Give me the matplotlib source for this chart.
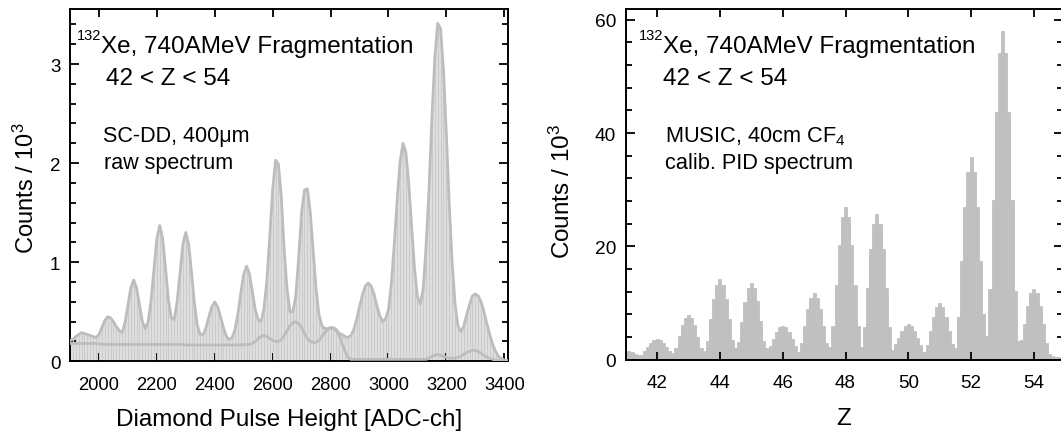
import numpy as np
import matplotlib
matplotlib.use("Agg")
import matplotlib.pyplot as plt

plt.rcParams['font.family'] = ['Liberation Sans', 'DejaVu Sans']
plt.rcParams['mathtext.fontset'] = 'custom'
plt.rcParams['mathtext.rm'] = 'Liberation Sans'
plt.rcParams['mathtext.it'] = 'Liberation Sans:italic'
plt.rcParams['mathtext.bf'] = 'Liberation Sans:bold'

# ---------------- Left panel data: diamond detector raw spectrum ----------------
adc_channel = list(range(1900, 3420, 10))  # 1900 .. 3410
raw_counts = [  # counts / 10^3, total spectrum
    0.21, 0.22, 0.25, 0.27, 0.29, 0.28, 0.27, 0.26, 0.25, 0.24,   # 1900-1990
    0.27, 0.34, 0.41, 0.45, 0.44, 0.40, 0.35, 0.31, 0.29, 0.39,   # 2000-2090
    0.56, 0.74, 0.82, 0.74, 0.57, 0.40, 0.33, 0.40, 0.61, 0.93,   # 2100-2190
    1.24, 1.37, 1.24, 0.94, 0.62, 0.44, 0.42, 0.60, 0.89, 1.18,   # 2200-2290
    1.30, 1.18, 0.89, 0.58, 0.36, 0.27, 0.27, 0.34, 0.45, 0.55,   # 2300-2390
    0.60, 0.55, 0.45, 0.34, 0.25, 0.22, 0.24, 0.32, 0.48, 0.69,   # 2400-2490
    0.88, 0.96, 0.88, 0.70, 0.52, 0.42, 0.40, 0.53, 0.81, 1.26,   # 2500-2590
    1.73, 2.03, 1.99, 1.65, 1.12, 0.72, 0.50, 0.50, 0.66, 1.05,   # 2600-2690
    1.50, 1.73, 1.74, 1.50, 1.11, 0.73, 0.47, 0.36, 0.33, 0.33,   # 2700-2790
    0.34, 0.34, 0.32, 0.28, 0.27, 0.25, 0.24, 0.26, 0.32, 0.42,   # 2800-2890
    0.55, 0.67, 0.76, 0.79, 0.76, 0.68, 0.56, 0.46, 0.40, 0.43,   # 2900-2990
    0.52, 0.78, 1.18, 1.62, 2.01, 2.20, 2.11, 1.80, 1.36, 0.94,   # 3000-3090
    0.65, 0.58, 0.73, 1.16, 1.73, 2.45, 3.06, 3.41, 3.36, 2.95,   # 3100-3190
    2.29, 1.59, 1.00, 0.58, 0.36, 0.30, 0.35, 0.47, 0.57, 0.66,   # 3200-3290
    0.68, 0.66, 0.60, 0.50, 0.38, 0.27, 0.17, 0.10, 0.05, 0.03,   # 3300-3390
    0.01, 0.005,                                                  # 3400-3410
]
bg_counts = [  # lower (background / gated) spectrum, counts / 10^3
    0.18, 0.18, 0.18, 0.18, 0.18, 0.18, 0.18, 0.18, 0.18, 0.18,   # 1900-1990
    0.175, 0.175, 0.17, 0.17, 0.17, 0.17, 0.17, 0.17, 0.17, 0.17, # 2000-2090
    0.17, 0.17, 0.17, 0.17, 0.17, 0.17, 0.17, 0.17, 0.17, 0.17,   # 2100-2190
    0.17, 0.17, 0.17, 0.17, 0.17, 0.17, 0.17, 0.17, 0.17, 0.17,   # 2200-2290
    0.165, 0.165, 0.165, 0.165, 0.165, 0.165, 0.165, 0.165, 0.165, 0.165,  # 2300-2390
    0.165, 0.165, 0.165, 0.165, 0.165, 0.165, 0.165, 0.165, 0.165, 0.165,  # 2400-2490
    0.165, 0.17, 0.17, 0.18, 0.20, 0.23, 0.25, 0.26, 0.25, 0.23,  # 2500-2590
    0.21, 0.20, 0.20, 0.22, 0.26, 0.31, 0.36, 0.39, 0.40, 0.38,   # 2600-2690
    0.34, 0.28, 0.23, 0.20, 0.19, 0.19, 0.21, 0.25, 0.29, 0.32,   # 2700-2790
    0.33, 0.33, 0.31, 0.26, 0.18, 0.10, 0.04, 0.02, 0.02, 0.02,   # 2800-2890
    0.02, 0.02, 0.02, 0.02, 0.02, 0.02, 0.02, 0.02, 0.02, 0.02,   # 2900-2990
    0.02, 0.02, 0.02, 0.02, 0.02, 0.02, 0.02, 0.02, 0.02, 0.02,   # 3000-3090
    0.02, 0.02, 0.02, 0.02, 0.03, 0.05, 0.06, 0.07, 0.06, 0.05,   # 3100-3190
    0.04, 0.03, 0.03, 0.03, 0.04, 0.05, 0.07, 0.09, 0.10, 0.11,   # 3200-3290
    0.11, 0.10, 0.08, 0.06, 0.04, 0.03, 0.02, 0.01, 0.005, 0.005, # 3300-3390
    0.005, 0.005,                                                 # 3400-3410
]

# ---------------- Right panel data: MUSIC calibrated PID spectrum ----------------
z_bin_centers = [round(41.0 + 0.1 * k, 1) for k in range(140)]  # 41.0 .. 54.9
music_counts = [  # counts / 10^3
    1.6, 1.5, 1.3, 1.05, 0.85, 0.9, 1.5, 2.3, 3.0, 3.45,      # 41.0-41.9
    3.6, 3.45, 3.0, 2.3, 1.6, 1.17, 2.1, 4.1, 6.05, 7.4,      # 42.0-42.9
    7.9, 7.4, 6.05, 4.05, 2.1, 1.6, 3.3, 7.1, 10.8, 13.2,     # 43.0-43.9
    14.2, 13.2, 10.8, 7.1, 3.4, 2.1, 3.2, 6.74, 10.25, 12.6,  # 44.0-44.9
    13.5, 12.6, 10.3, 6.85, 3.3, 2.0, 2.5, 3.7, 4.9, 5.7,     # 45.0-45.9
    6.0, 5.7, 4.9, 3.7, 2.5, 1.4, 2.96, 5.95, 8.9, 10.9,      # 46.0-46.9
    11.7, 10.9, 8.9, 5.9, 3.0, 2.2, 5.9, 13.2, 20.3, 25.1,    # 47.0-47.9
    26.9, 25.1, 20.3, 13.2, 6.0, 2.3, 5.8, 12.6, 19.5, 24.0,  # 48.0-48.9
    25.8, 24.0, 19.5, 12.7, 5.8, 1.8, 2.7, 3.9, 5.1, 6.0,     # 49.0-49.9
    6.3, 6.0, 5.1, 3.9, 2.6, 1.4, 2.6, 5.1, 7.6, 9.3,         # 50.0-50.9
    10.0, 9.3, 7.6, 5.1, 2.75, 2.0, 7.6, 17.4, 26.9, 33.2,    # 51.0-51.9
    35.7, 33.2, 26.9, 17.4, 8.1, 4.2, 12.4, 28.1, 43.7, 54.1, # 52.0-52.9
    58.1, 54.1, 43.7, 28.1, 12.1, 3.3, 3.5, 6.3, 9.5, 11.7,   # 53.0-53.9
    12.5, 11.7, 9.5, 6.3, 2.9, 1.0, 0.6, 0.55, 0.5, 0.5,      # 54.0-54.9
]

W, H = 1061, 435
fig = plt.figure(figsize=(W / 100, H / 100), dpi=100)


def px_axes(l, r, t, b):
    return fig.add_axes([l / W, 1 - b / H, (r - l) / W, (b - t) / H])


def style_axes(ax, ytick_size, xtick_size):
    for s in ax.spines.values():
        s.set_linewidth(1.4)
        s.set_color('black')
    ax.tick_params(which='both', direction='in', top=True, right=True,
                   width=1.3, color='black')
    ax.tick_params(which='major', length=6.5)
    ax.tick_params(which='minor', length=4.3)
    ax.tick_params(axis='x', which='major', length=5.8, pad=10.5,
                   labelsize=xtick_size)
    ax.tick_params(axis='y', pad=7, labelsize=ytick_size)


grey_line = '#bdbdbd'
title_size = 17.5

# ---------------- Left panel ----------------
ax1 = px_axes(70, 508.3, 10, 362.3)
x = np.array(adc_channel, dtype=float)
y = np.array(raw_counts)
yb = np.array(bg_counts)
ax1.fill_between(x, 0, y, color='#dedede', lw=0, zorder=1)
ax1.vlines(x, 0, y, color='#cbcbcb', lw=0.7, zorder=2)
ax1.plot(x, y, color=grey_line, lw=2.0, zorder=3, solid_joinstyle='round')
ax1.plot(x, yb, color=grey_line, lw=2.0, zorder=3, solid_joinstyle='round')
ax1.set_xlim(1900, 3414)
ax1.set_ylim(0, 3.555)
ax1.set_xticks(range(2000, 3401, 200))
ax1.set_yticks([0, 1, 2, 3])
ax1.set_yticks(np.arange(0, 3.6, 0.2), minor=True)
style_axes(ax1, 13.5, 13.2)

fig.text(289 / W, 1 - 426 / H, 'Diamond Pulse Height [ADC-ch]', ha='center',
         va='baseline', fontsize=title_size)
fig.text(26 / W, 1 - 188 / H, r'Counts / 10$^3$', rotation=90, ha='center',
         va='center', fontsize=17)
fig.text(77.3 / W, 1 - 39.5 / H, '132', ha='left', va='baseline', fontsize=10.5)
fig.text(100.7 / W, 1 - 52.7 / H, 'Xe, 740AMeV Fragmentation',
         ha='left', va='baseline', fontsize=title_size)
fig.text(105.8 / W, 1 - 84.7 / H, '42 < Z < 54', ha='left', va='baseline',
         fontsize=title_size)
fig.text(103.4 / W, 1 - 142.4 / H, 'SC-DD, 400\u03bcm', ha='left',
         va='baseline', fontsize=15.5)
fig.text(104 / W, 1 - 169.5 / H, 'raw spectrum', ha='left', va='baseline',
         fontsize=15.5)

# ---------------- Right panel ----------------
ax2 = px_axes(625.7, 1062.5, 10, 360.7)
zc = np.array(z_bin_centers)
edges = np.append(zc - 0.05, zc[-1] + 0.05)
ax2.stairs(music_counts, edges, fill=True, facecolor='#c0c0c0',
           edgecolor='#c0c0c0', lw=0.6)
ax2.set_xlim(41, 54.91)
ax2.set_ylim(0, 61.9)
ax2.set_xticks(range(42, 55, 2))
ax2.set_yticks([0, 20, 40, 60])
ax2.set_yticks(np.arange(0, 61, 4), minor=True)
style_axes(ax2, 13.8, 13.6)

fig.text(844 / W, 1 - 425 / H, 'Z', ha='center', va='baseline',
         fontsize=title_size)
fig.text(562 / W, 1 - 192 / H, r'Counts / 10$^3$', rotation=90, ha='center',
         va='center', fontsize=17.5)
fig.text(638.5 / W, 1 - 40 / H, '132', ha='left', va='baseline', fontsize=10.5)
fig.text(663 / W, 1 - 53.3 / H, 'Xe, 740AMeV Fragmentation',
         ha='left', va='baseline', fontsize=title_size)
fig.text(663 / W, 1 - 85 / H, '42 < Z < 54', ha='left', va='baseline',
         fontsize=title_size)
fig.text(665 / W, 1 - 142 / H, r'MUSIC, 40cm CF$_4$', ha='left',
         va='baseline', fontsize=15.7)
fig.text(665 / W, 1 - 169.5 / H, 'calib. PID spectrum', ha='left',
         va='baseline', fontsize=15.7)

fig.savefig('out.png', dpi=100)
